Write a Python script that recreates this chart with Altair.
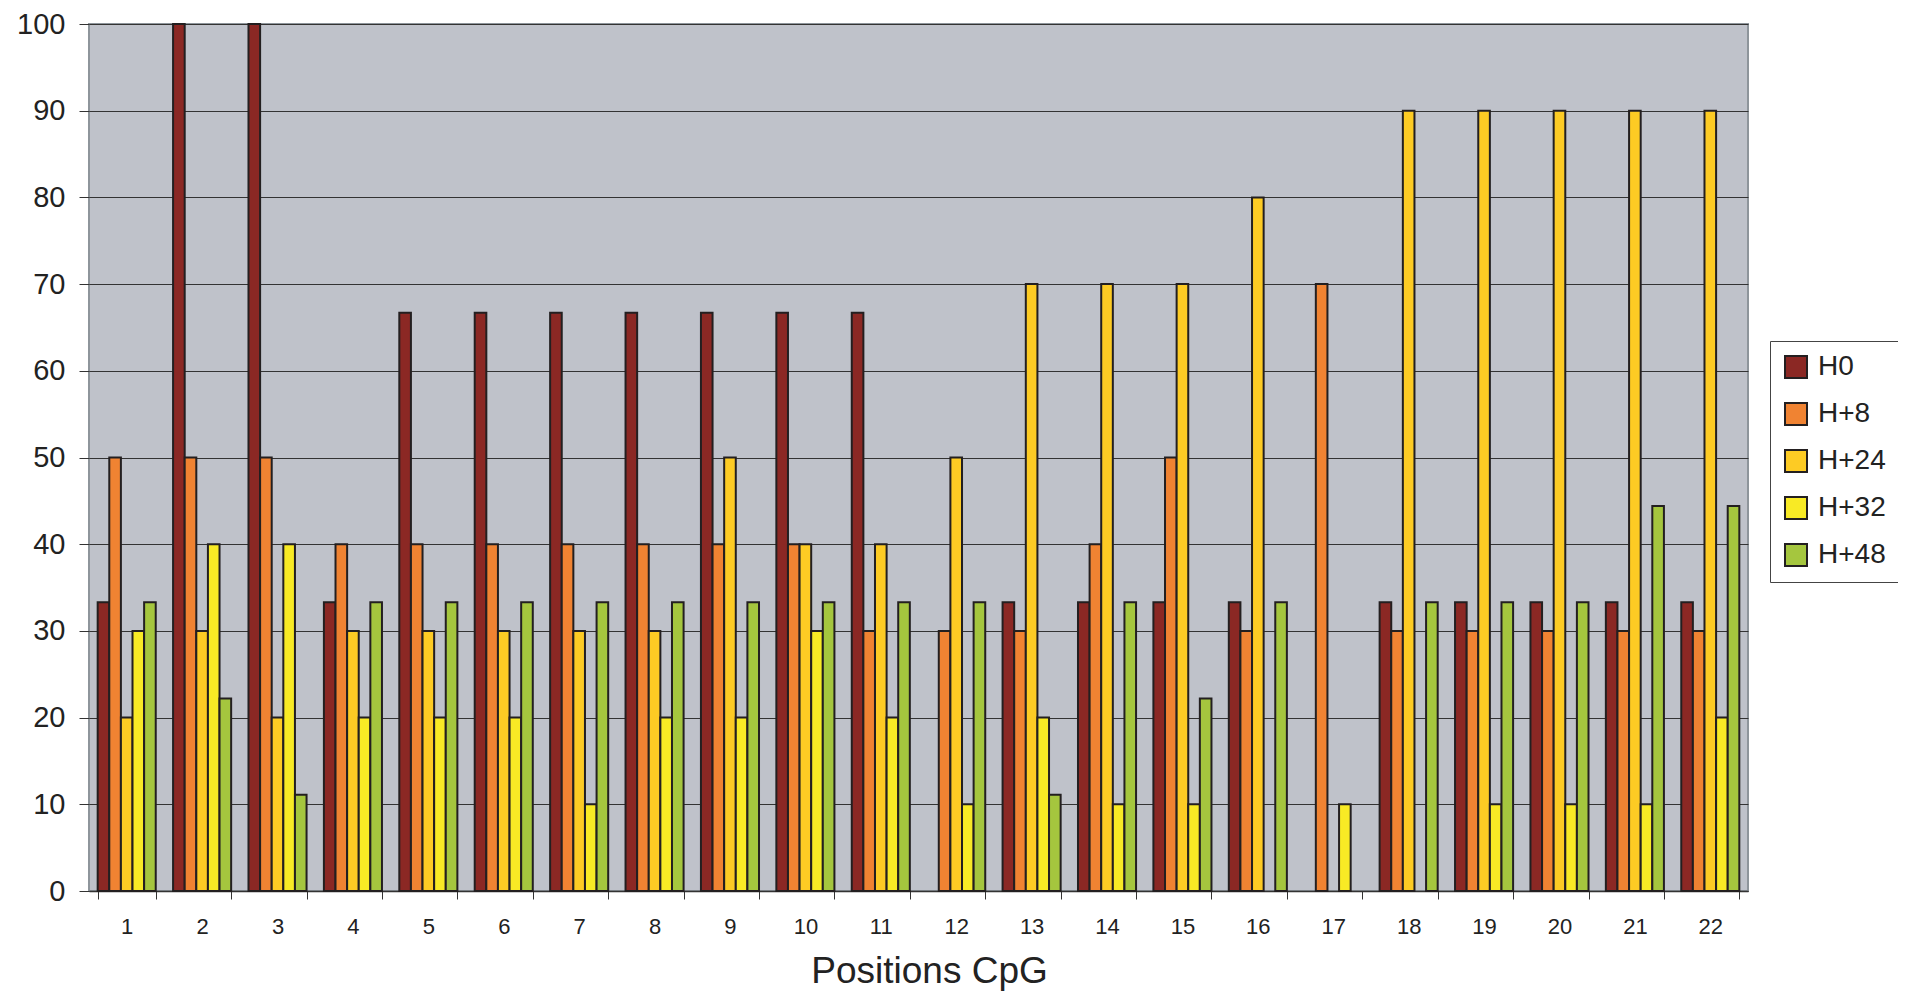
import altair as alt
import pandas as pd

positions = list(range(1, 23))
series = ["H0", "H+8", "H+24", "H+32", "H+48"]
colors = ["#8B2824", "#F08332", "#FDCB24", "#F8EA25", "#A5C63E"]

h0 = [33.3, 100, 100, 33.3, 66.7, 66.7, 66.7, 66.7, 66.7, 66.7, 66.7, 0, 33.3, 33.3, 33.3, 33.3, 0, 33.3, 33.3, 33.3, 33.3, 33.3]
h8 = [50, 50, 50, 40, 40, 40, 40, 40, 40, 40, 30, 30, 30, 40, 50, 30, 70, 30, 30, 30, 30, 30]
h24 = [20, 30, 20, 30, 30, 30, 30, 30, 50, 40, 40, 50, 70, 70, 70, 80, 0, 90, 90, 90, 90, 90]
h32 = [30, 40, 40, 20, 20, 20, 10, 20, 20, 30, 20, 10, 20, 10, 10, 0, 10, 0, 10, 10, 10, 20]
h48 = [33.3, 22.2, 11.1, 33.3, 33.3, 33.3, 33.3, 33.3, 33.3, 33.3, 33.3, 33.3, 11.1, 33.3, 22.2, 33.3, 0, 33.3, 33.3, 33.3, 44.4, 44.4]

values = {"H0": h0, "H+8": h8, "H+24": h24, "H+32": h32, "H+48": h48}
rows = []
for s in series:
    for p, v in zip(positions, values[s]):
        rows.append({"pos": p, "series": s, "value": v})
df = pd.DataFrame(rows)

FONT = "Liberation Sans"

chart = alt.Chart(df).transform_filter(
    "datum.value > 0"
).mark_bar(stroke="#231F20", strokeWidth=2).encode(
    x=alt.X(
        "pos:O",
        scale=alt.Scale(paddingInner=0.23, paddingOuter=0.115),
        axis=alt.Axis(
            labelAngle=0,
            tickBand="extent",
            tickSize=8,
            tickColor="#333333",
            labelFontSize=22,
            labelPadding=17,
            labelColor="#222222",
            domainColor="#333333",
            domainWidth=1.5,
            grid=False,
            title="Positions CpG",
            titleFontSize=37,
            titleFontWeight="normal",
            titleColor="#222222",
            titleY=91,
            titleX=840,
            titleBaseline="alphabetic",
        ),
    ),
    xOffset=alt.XOffset(
        "series:N",
        sort=series,
        scale=alt.Scale(domain=series, paddingInner=0, paddingOuter=0),
    ),
    y=alt.Y(
        "value:Q",
        scale=alt.Scale(domain=[0, 100], nice=False),
        axis=alt.Axis(
            values=list(range(0, 101, 10)),
            tickSize=10,
            tickColor="#333333",
            labelFontSize=29,
            labelPadding=14,
            labelColor="#222222",
            domain=False,
            grid=True,
            gridColor="#333333",
            gridWidth=1,
            title=None,
        ),
    ),
    color=alt.Color(
        "series:N",
        sort=series,
        scale=alt.Scale(domain=series, range=colors),
        legend=alt.Legend(
            title=None,
            orient="none",
            legendX=1681,
            legendY=317,
            fillColor="white",
            strokeColor="#444444",
            padding=12,
            symbolType="square",
            symbolSize=484,
            symbolStrokeColor="#231F20",
            symbolStrokeWidth=2,
            symbolOpacity=1,
            labelFontSize=28,
            labelOffset=8,
            labelColor="#222222",
            rowPadding=17,
        ),
    ),
).properties(
    width=1659,
    height=867,
    padding={"left": 81, "top": 16, "right": 150, "bottom": 101},
    autosize=alt.AutoSizeParams(type="none"),
).configure(
    font=FONT,
).configure_view(
    fill="#BFC2CA",
    stroke="#8E959B",
    strokeWidth=2,
)

chart.save("out.html", embed_options={"renderer": "svg", "actions": False})
